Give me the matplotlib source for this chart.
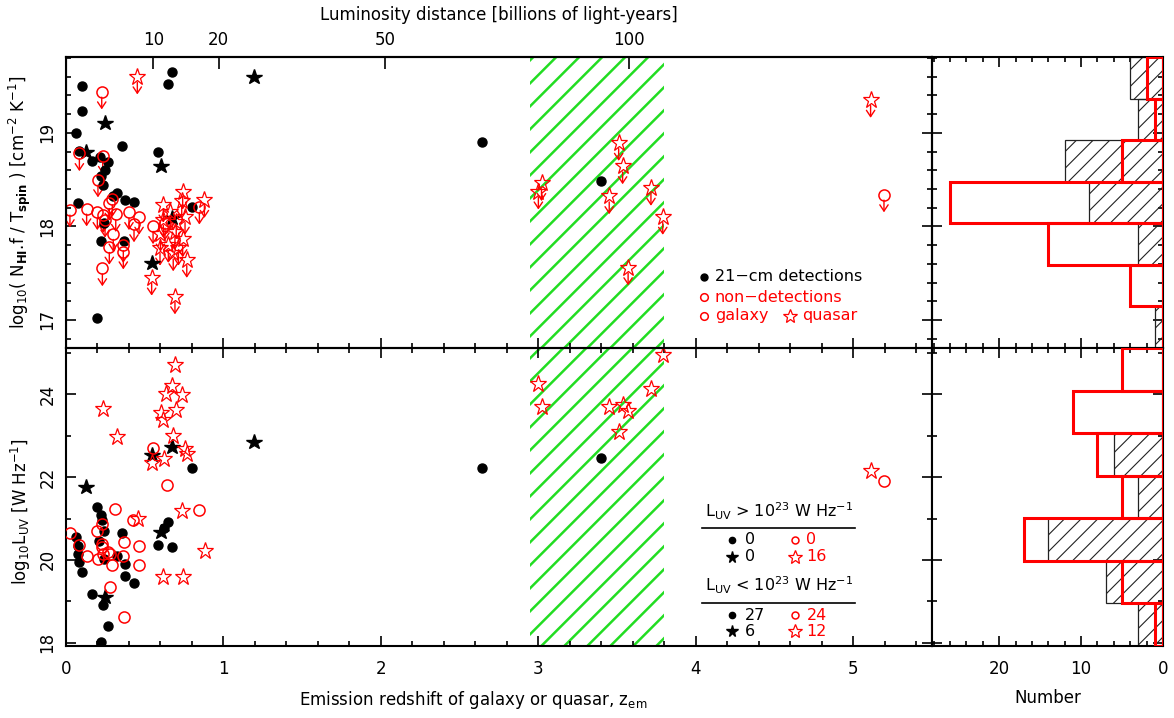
import numpy as np
import matplotlib
matplotlib.use("Agg")
import matplotlib.pyplot as plt
from matplotlib.patches import Rectangle
from matplotlib.ticker import MultipleLocator, NullFormatter

plt.rcParams['font.family'] = ['DejaVu Sans']
plt.rcParams['mathtext.fontset'] = 'dejavusans'
plt.rcParams['ytick.alignment'] = 'center'
plt.rcParams['hatch.linewidth'] = 0.8

# ---------------- data: top panel, log10(N_HI f / T_spin) ----------------
top_det_gal_z = [0.675, 0.646, 0.104, 0.100, 0.062, 0.356, 0.586, 0.083, 0.167, 0.216, 0.265, 0.220, 0.237,
                 0.322, 0.078, 0.375, 0.434, 0.802, 0.220, 0.370, 0.195, 2.64, 3.398, 0.243, 0.25, 0.30]
top_det_gal_v = [19.65, 19.52, 19.50, 19.23, 19.00, 18.86, 18.80, 18.81, 18.70, 18.74, 18.69, 18.54, 18.44,
                 18.36, 18.25, 18.28, 18.26, 18.21, 17.84, 17.84, 17.02, 18.90, 18.49, 18.04, 18.60, 18.32]
top_det_qso_z = [1.196, 0.248, 0.127, 0.603, 0.675, 0.544]
top_det_qso_v = [19.60, 19.10, 18.79, 18.64, 18.09, 17.61]
top_non_gal_z = [0.227, 0.085, 0.233, 0.203, 0.025, 0.131, 0.199, 0.237, 0.248, 0.275, 0.294, 0.316, 0.275,
                 0.364, 0.364, 0.432, 0.464, 0.231, 0.553, 0.629, 0.847, 5.195, 0.40, 0.30]
top_non_gal_v = [19.44, 18.78, 18.75, 18.50, 18.18, 18.19, 18.15, 18.12, 18.07, 18.25, 18.29, 18.13, 17.78,
                 17.80, 17.73, 18.02, 18.10, 17.55, 18.00, 18.04, 18.21, 18.34, 18.15, 17.92]
top_non_qso_z = [0.453, 0.741, 0.879, 0.618, 0.735, 0.756, 0.618, 0.692, 0.741, 0.597, 0.681, 0.767, 0.692,
                 0.650, 0.714, 0.544, 0.66, 0.70, 0.60, 3.02, 3.00, 3.51, 3.535, 3.45, 3.715, 3.79, 3.57, 5.11]
top_non_qso_v = [19.60, 18.37, 18.28, 18.23, 18.27, 18.10, 18.07, 17.94, 17.86, 17.77, 17.71, 17.64, 17.25,
                 17.80, 17.77, 17.45, 18.15, 18.05, 17.92, 18.46, 18.37, 18.89, 18.64, 18.32, 18.41, 18.10,
                 17.56, 19.35]

# ---------------- data: bottom panel, log10 L_UV ----------------
bot_det_gal_z = [0.802, 0.195, 0.222, 0.227, 0.243, 0.062, 0.354, 0.624, 0.650, 0.586, 0.675, 0.078, 0.083,
                 0.100, 0.243, 0.322, 0.375, 0.375, 0.432, 0.167, 0.237, 0.265, 0.220, 2.64, 3.398, 0.074, 0.21]
bot_det_gal_v = [22.21, 21.28, 21.09, 20.96, 20.71, 20.55, 20.65, 20.77, 20.92, 20.37, 20.30, 20.15, 19.95,
                 19.72, 20.03, 20.09, 19.89, 19.62, 19.45, 19.17, 18.92, 18.41, 18.01, 22.21, 22.47, 20.34, 20.45]
bot_det_qso_z = [0.544, 0.675, 0.125, 1.196, 0.603, 0.248]
bot_det_qso_v = [22.53, 22.72, 21.75, 22.84, 20.68, 19.10]
bot_non_gal_z = [0.550, 0.640, 0.311, 0.231, 0.199, 0.025, 0.424, 0.845, 0.368, 0.227, 0.464, 0.083, 0.231,
                 0.265, 0.237, 0.279, 0.135, 0.201, 0.364, 0.294, 0.464, 0.279, 0.370, 5.195]
bot_non_gal_v = [22.71, 21.82, 21.22, 20.86, 20.70, 20.65, 20.96, 21.20, 20.43, 20.39, 20.34, 20.35, 20.31,
                 20.19, 20.15, 20.15, 20.09, 20.01, 20.09, 19.88, 19.88, 19.34, 18.62, 21.90]
bot_non_qso_z = [0.692, 0.671, 0.635, 0.735, 0.237, 0.603, 0.696, 0.618, 0.322, 0.681, 0.756, 0.767, 0.624,
                 0.544, 0.455, 0.739, 0.883, 0.618, 0.745, 5.11, 3.00, 3.02, 3.45, 3.51, 3.535, 3.57, 3.715, 3.79]
bot_non_qso_v = [24.71, 24.21, 24.00, 23.98, 23.64, 23.56, 23.62, 23.38, 22.98, 22.99, 22.69, 22.57, 22.45,
                 22.33, 20.98, 21.18, 20.22, 19.59, 19.59, 22.14, 24.25, 23.70, 23.70, 23.10, 23.75, 23.60,
                 24.12, 24.95]

# ---------------- histogram counts (bins ascending in y) ----------------
hist_top_det = [1, 0, 3, 9, 12, 3, 4]
hist_top_non = [0, 4, 14, 26, 5, 1, 2]
hist_bot_det = [3, 7, 14, 3, 6, 0, 0]
hist_bot_non = [1, 5, 17, 5, 8, 11, 5]

# legend counts: [det galaxy, det quasar, non galaxy, non quasar]
counts_hi = [0, 0, 0, 16]
counts_lo = [27, 6, 24, 12]

# top axis: luminosity distance ticks (billions of light-years)
dl_ticks = [10, 20, 50, 100]
band_z = (2.95, 3.80)

XLIM = (0, 5.5)
YLIM_TOP = (16.70, 19.81)
YLIM_BOT = (17.92, 25.12)
HLIM = (28.2, 0)

RED = '#ff0000'
GREEN = '#22dd22'

# ---------------- figure ----------------
W, H = 1174, 718
fig = plt.figure(figsize=(W / 100, H / 100), dpi=100)


def fr(x0, y0, x1, y1):
    return [x0 / W, 1 - y1 / H, (x1 - x0) / W, (y1 - y0) / H]


ax1 = fig.add_axes(fr(66, 57, 932, 348))
ax2 = fig.add_axes(fr(66, 348, 932, 646))
ax3 = fig.add_axes(fr(932, 57, 1163, 348))
ax4 = fig.add_axes(fr(932, 348, 1163, 646))

for ax in (ax1, ax2, ax3, ax4):
    for sp in ax.spines.values():
        sp.set_linewidth(1.5)
    ax.tick_params(which='both', direction='in', width=1.2, labelsize=12)
    ax.tick_params(which='major', length=7.2)
    ax.tick_params(which='minor', length=3.6)

ax1.set_xlim(*XLIM); ax1.set_ylim(*YLIM_TOP)
ax2.set_xlim(*XLIM); ax2.set_ylim(*YLIM_BOT)
ax3.set_xlim(*HLIM); ax3.set_ylim(*YLIM_TOP)
ax4.set_xlim(*HLIM); ax4.set_ylim(*YLIM_BOT)

# ticks scatter
for ax in (ax1, ax2):
    ax.xaxis.set_major_locator(MultipleLocator(1))
    ax.xaxis.set_minor_locator(MultipleLocator(0.2))
ax1.yaxis.set_major_locator(MultipleLocator(1))
ax1.yaxis.set_minor_locator(MultipleLocator(0.2))
ax2.yaxis.set_major_locator(MultipleLocator(2))
ax2.yaxis.set_minor_locator(MultipleLocator(1))
ax1.tick_params(axis='x', which='both', bottom=True, top=False, labelbottom=False)
ax2.tick_params(axis='x', which='both', bottom=True, top=True, labelbottom=True, pad=10)
for ax in (ax1, ax2):
    ax.tick_params(axis='y', which='both', left=True, right=True, labelrotation=90, pad=7)

# ticks histograms
for ax in (ax3, ax4):
    ax.xaxis.set_major_locator(MultipleLocator(10))
    ax.xaxis.set_minor_locator(MultipleLocator(2))
    ax.tick_params(axis='y', which='both', left=True, right=True, labelleft=False)
    ax.tick_params(axis='x', which='both', bottom=True, top=True)
ax3.yaxis.set_major_locator(MultipleLocator(1)); ax3.yaxis.set_minor_locator(MultipleLocator(0.2))
ax4.yaxis.set_major_locator(MultipleLocator(2)); ax4.yaxis.set_minor_locator(MultipleLocator(1))
ax3.tick_params(axis='x', labelbottom=False)
ax4.tick_params(axis='x', labelbottom=True, pad=10)

# top luminosity-distance axis
H0, Om = 74.0, 0.27


def dl_gly(z):
    zz = np.linspace(0, z, 2001)
    E = np.sqrt(Om * (1 + zz) ** 3 + 1 - Om)
    dc = 299792.458 / H0 * np.trapezoid(1 / E, zz)
    return (1 + z) * dc * 3.2616e-3


zgrid = np.linspace(0.01, 5.5, 800)
dlgrid = np.array([dl_gly(z) for z in zgrid])
ztick = np.interp(dl_ticks, dlgrid, zgrid)
ax1t = ax1.twiny()
ax1t.set_xlim(*XLIM)
ax1t.set_xticks(ztick)
ax1t.set_xticklabels([str(t) for t in dl_ticks])
ax1t.tick_params(axis='x', direction='in', length=8.6, width=1.2, labelsize=12, pad=6)
ax1t.spines['top'].set_linewidth(1.5)
ax1t.set_xlabel('Luminosity distance [billions of light-years]', fontsize=12, labelpad=8)


# green hatched band
def draw_band(ax, z0, z1, spacing=23, color=GREEN, lw=1.8):
    ylo, yhi = ax.get_ylim()
    rect = Rectangle((z0, ylo), z1 - z0, yhi - ylo, transform=ax.transData, fill=False, lw=0)
    px0, py0 = ax.transData.transform((z0, ylo))
    px1, py1 = ax.transData.transform((z1, yhi))
    inv = ax.transData.inverted()
    c = py0 - px1 + 8
    while c < py1 - px0:
        pts = np.array([[px0 - 5, px0 - 5 + c], [px1 + 5, px1 + 5 + c]])
        d = inv.transform(pts)
        ln, = ax.plot(d[:, 0], d[:, 1], color=color, lw=lw, zorder=0.5, solid_capstyle='butt')
        ln.set_clip_path(rect)
        c += spacing


draw_band(ax1, *band_z)
draw_band(ax2, *band_z)

# scatter
mk_dot = dict(marker='o', ls='none', ms=6.5, color='k', zorder=3)
mk_bstar = dict(marker='*', ls='none', ms=11.5, color='k', zorder=3)
mk_rcirc = dict(marker='o', ls='none', ms=8, mfc='none', mec=RED, mew=1.1, zorder=3)
mk_rstar = dict(marker='*', ls='none', ms=12.5, mfc='none', mec=RED, mew=0.9, zorder=3)

arrow_len = 0.19
for z, v in list(zip(top_non_gal_z, top_non_gal_v)) + list(zip(top_non_qso_z, top_non_qso_v)):
    ax1.annotate('', xy=(z, v - arrow_len), xytext=(z, v),
                 arrowprops=dict(arrowstyle='->,head_length=0.45,head_width=0.3', color=RED,
                                 lw=1.0, shrinkA=4, shrinkB=0), zorder=2.5)

ax1.plot(top_det_gal_z, top_det_gal_v, **mk_dot)
ax1.plot(top_det_qso_z, top_det_qso_v, **mk_bstar)
ax1.plot(top_non_gal_z, top_non_gal_v, **mk_rcirc)
ax1.plot(top_non_qso_z, top_non_qso_v, **mk_rstar)

ax2.plot(bot_det_gal_z, bot_det_gal_v, **mk_dot)
ax2.plot(bot_det_qso_z, bot_det_qso_v, **mk_bstar)
ax2.plot(bot_non_gal_z, bot_non_gal_v, **mk_rcirc)
ax2.plot(bot_non_qso_z, bot_non_qso_v, **mk_rstar)


# histograms
def draw_hist(ax, ylim, det, non):
    edges = np.linspace(ylim[0], ylim[1], len(det) + 1)
    centers = 0.5 * (edges[:-1] + edges[1:])
    hgt = edges[1] - edges[0]
    ax.barh(centers, det, height=hgt, fill=False, hatch='//', edgecolor='#222222', lw=0.9, zorder=2)
    ax.barh(centers, non, height=hgt, fill=False, edgecolor=RED, lw=2.2, zorder=3)


draw_hist(ax3, YLIM_TOP, hist_top_det, hist_top_non)
draw_hist(ax4, YLIM_BOT, hist_bot_det, hist_bot_non)

# labels
ax1.set_ylabel(r'log$_{10}$( N$_{\mathbf{HI}}$.f / T$_{\mathbf{spin}}$ ) [cm$^{-2}$ K$^{-1}$]', fontsize=12)
ax1.yaxis.set_label_coords(-0.038, 0.5)
ax2.set_ylabel(r'log$_{10}$L$_{\rm UV}$ [W Hz$^{-1}$]', fontsize=12)
ax2.yaxis.set_label_coords(-0.038, 0.45)
ax2.set_xlabel(r'Emission redshift of galaxy or quasar, z$_{\rm em}$', fontsize=12)
ax2.xaxis.set_label_coords(0.47, -0.145)
ax4.set_xlabel('Number', fontsize=12)
ax4.xaxis.set_label_coords(0.5, -0.145)

# top legend
T = ax1.transAxes
ax1.plot([0.737], [0.244], marker='o', ms=5, color='k', transform=T, clip_on=False)
ax1.text(0.749, 0.244, '21\u2212cm detections', transform=T, fontsize=11.5, va='center', color='k')
ax1.plot([0.737], [0.175], marker='o', ms=5.5, mfc='none', mec=RED, mew=1.1, transform=T)
ax1.text(0.749, 0.175, 'non\u2212detections', transform=T, fontsize=11.5, va='center', color=RED)
ax1.plot([0.737], [0.110], marker='o', ms=5.5, mfc='none', mec=RED, mew=1.1, transform=T)
ax1.text(0.749, 0.110, 'galaxy', transform=T, fontsize=11.5, va='center', color=RED)
ax1.plot([0.836], [0.110], marker='*', ms=10, mfc='none', mec=RED, mew=0.9, transform=T)
ax1.text(0.850, 0.110, 'quasar', transform=T, fontsize=11.5, va='center', color=RED)

# bottom legend
B = ax2.transAxes


def block(y_title, y_line, y_r1, y_r2, sign, counts):
    ax2.text(0.738, y_title, r'L$_{\rm UV}$ ' + sign + r' 10$^{23}$ W Hz$^{-1}$', transform=B,
             fontsize=11.5, va='center')
    ax2.plot([0.734, 0.911], [y_line, y_line], color='k', lw=1.2, transform=B)
    ax2.plot([0.769], [y_r1], marker='o', ms=4.5, color='k', transform=B)
    ax2.text(0.784, y_r1, str(counts[0]), transform=B, fontsize=11.5, va='center')
    ax2.plot([0.842], [y_r1], marker='o', ms=5, mfc='none', mec=RED, mew=1.1, transform=B)
    ax2.text(0.855, y_r1, str(counts[2]), transform=B, fontsize=11.5, va='center', color=RED)
    ax2.plot([0.769], [y_r2], marker='*', ms=8.5, color='k', transform=B)
    ax2.text(0.784, y_r2, str(counts[1]), transform=B, fontsize=11.5, va='center')
    ax2.plot([0.842], [y_r2], marker='*', ms=10, mfc='none', mec=RED, mew=0.9, transform=B)
    ax2.text(0.855, y_r2, str(counts[3]), transform=B, fontsize=11.5, va='center', color=RED)


block(0.451, 0.397, 0.357, 0.300, '>', counts_hi)
block(0.205, 0.145, 0.104, 0.050, '<', counts_lo)

fig.savefig('out.png', dpi=100)
